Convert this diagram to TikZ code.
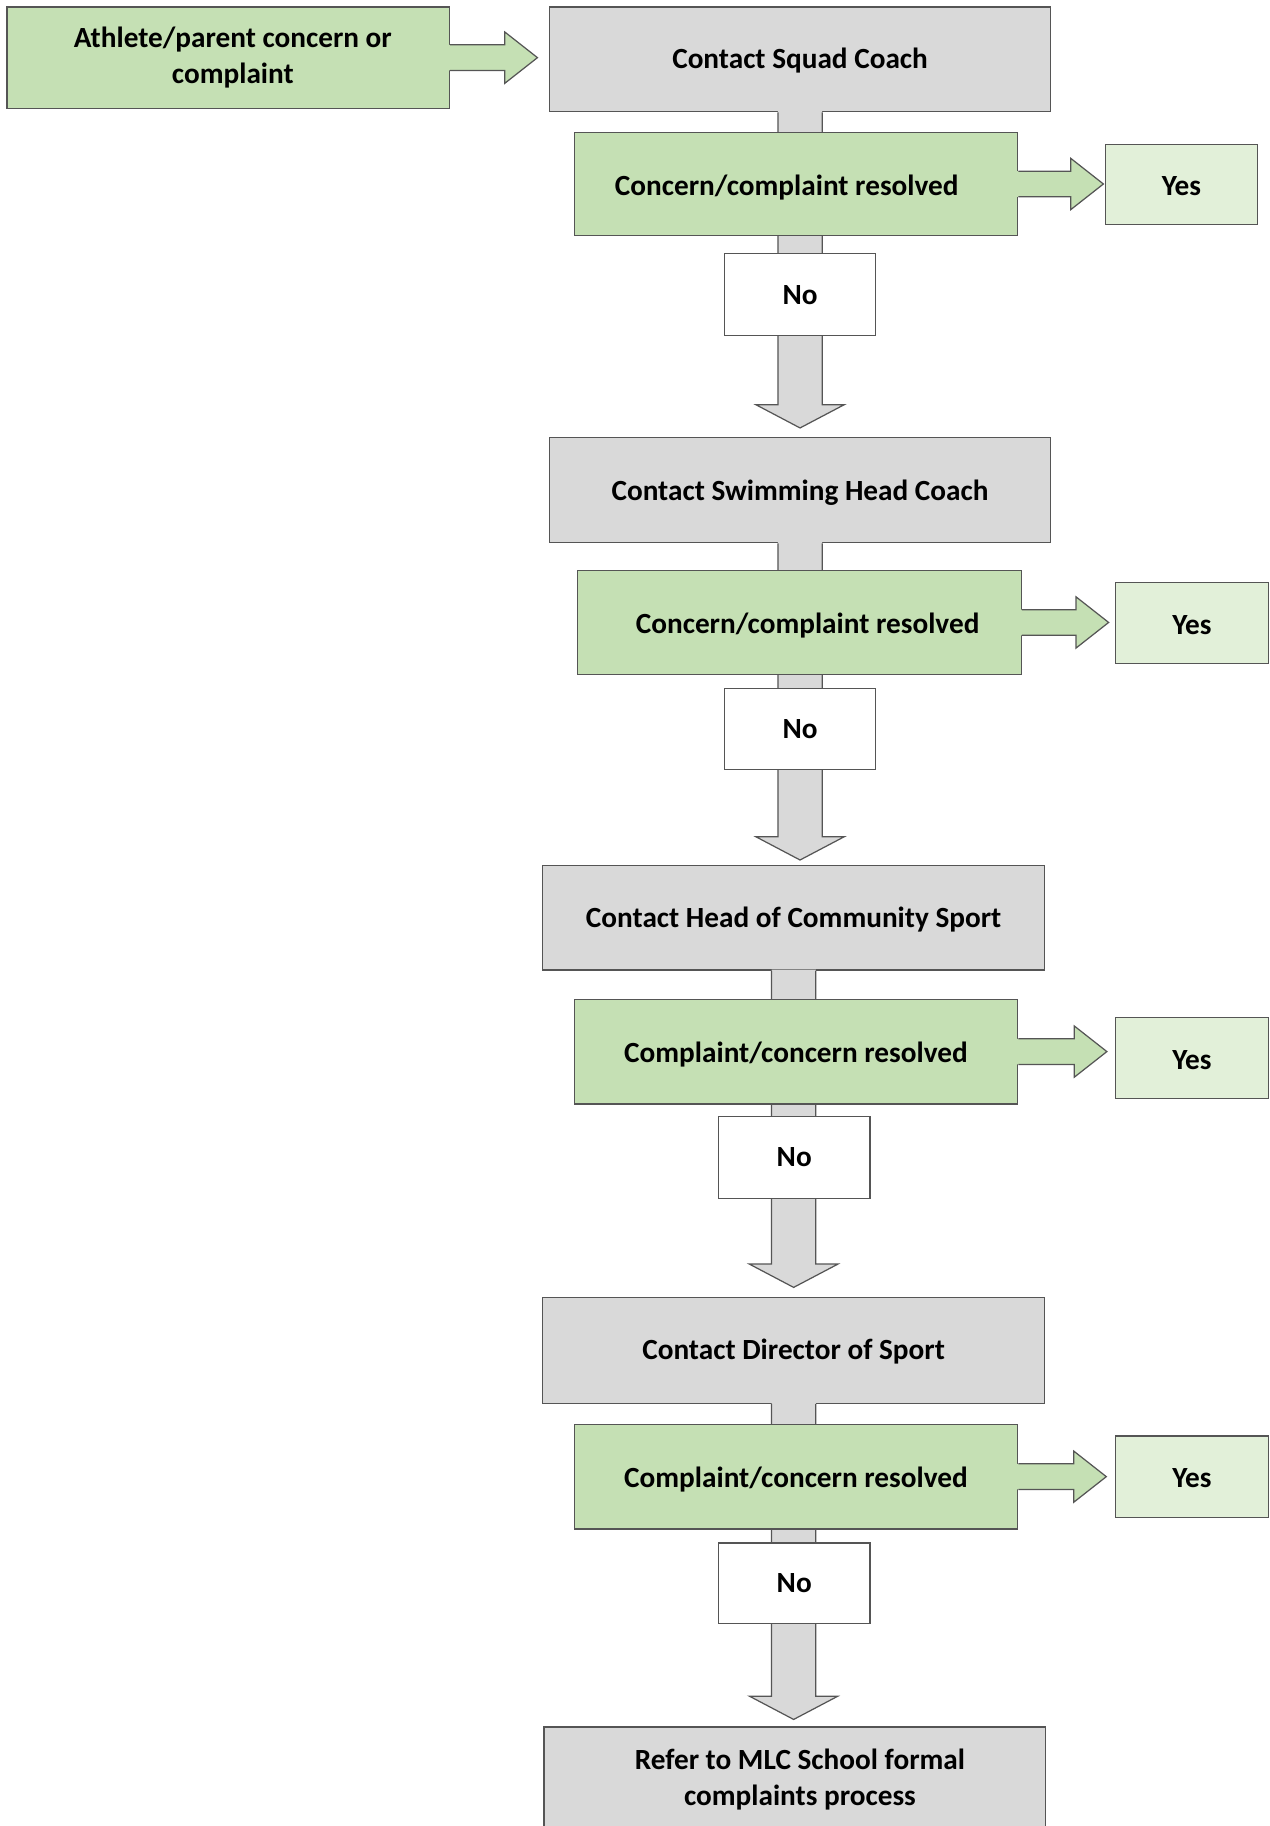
\documentclass[tikz,border=0pt]{standalone}
\usepackage{fontspec}
\setmainfont{Carlito}
\usetikzlibrary{calc}
\definecolor{grayfill}{HTML}{D9D9D9}
\definecolor{greenfill}{HTML}{C5E0B4}
\definecolor{yesfill}{HTML}{E2F0D9}
\definecolor{edgecol}{HTML}{555555}
\tikzset{
  basebox/.style={draw=edgecol, line width=0.6pt, inner sep=0pt, align=center,
    font=\fontsize{14.3}{17.6}\selectfont\bfseries, text=black},
  graybox/.style={basebox, fill=grayfill, minimum width=8.6cm, minimum height=1.8cm},
  greenbox/.style={basebox, fill=greenfill, minimum width=7.62cm, minimum height=1.78cm},
  yesbox/.style={basebox, fill=yesfill, minimum width=2.62cm, minimum height=1.4cm},
  nobox/.style={basebox, fill=white, minimum width=2.6cm, minimum height=1.4cm},
  arrowline/.style={draw=edgecol, line width=0.6pt, line join=miter},
}
% gray down block arrow: #1 from, #2 to, #3 gap before target
\newcommand\mydownblock[3]{%
  \coordinate (ds) at (#1.south);
  \coordinate (dt) at ($(#1.south |- #2.north)+(0,-#3)$);
  \fill[grayfill] ($(ds)+(-19,-1)$) -- ($(dt)+(-19,-20)$) -- ($(dt)+(-38,-20)$) -- (dt)
     -- ($(dt)+(38,-20)$) -- ($(dt)+(19,-20)$) -- ($(ds)+(19,-1)$) -- cycle;
  \draw[arrowline] (ds) ++(-19,0) -- ($(dt)+(-19,-20)$) -- ($(dt)+(-38,-20)$) -- (dt)
     -- ($(dt)+(38,-20)$) -- ($(dt)+(19,-20)$) -- ($(ds)+(19,0)$);
}
% green right block arrow: #1 from, #2 to, #3 gap before target
\newcommand\myrightblock[3]{%
  \coordinate (rs) at (#1.east);
  \coordinate (rt) at ($(#2.west |- #1.east)+(-#3,0)$);
  \fill[greenfill] ($(rs)+(-1,-11)$) -- ($(rt)+(-28,-11)$) -- ($(rt)+(-28,-22)$) -- (rt)
     -- ($(rt)+(-28,22)$) -- ($(rt)+(-28,11)$) -- ($(rs)+(-1,11)$) -- cycle;
  \draw[arrowline] ($(rs)+(0,-11)$) -- ($(rt)+(-28,-11)$) -- ($(rt)+(-28,-22)$) -- (rt)
     -- ($(rt)+(-28,22)$) -- ($(rt)+(-28,11)$) -- ($(rs)+(0,11)$);
}
\newcommand\lowered[2][1.6pt]{\raisebox{-#1}[\height][\depth]{#2}}
\begin{document}
\begin{tikzpicture}[x=0.02cm, y=-0.02cm]
\useasboundingbox (0,0) rectangle (1090,1568);
\clip (0,0) rectangle (1090,1568);
\fill[white] (0,0) rectangle (1090,1568);

% main contact boxes
\node[graybox] (squad) at (687,51) {\lowered[0.8pt]{Contact Squad Coach}};
\node[graybox] (headcoach) at (687,421) {\lowered[1.1pt]{Contact Swimming Head Coach}};
\node[graybox, minimum width=8.62cm] (community) at (681.5,788) {\lowered[1.1pt]{Contact Head of Community Sport}};
\node[graybox, minimum width=8.62cm, minimum height=1.82cm] (director) at (681.5,1159.5) {\lowered[0.8pt]{Contact Director of Sport}};
\node[graybox, minimum width=8.62cm] (refer) at (682.5,1528) {\hspace*{5pt}Refer to MLC School formal\\\hspace*{5pt}complaints process};

% gray down arrows
\mydownblock{squad}{headcoach}{8}
\mydownblock{headcoach}{community}{4}
\mydownblock{community}{director}{8}
\mydownblock{director}{refer}{6}

% start box
\node[basebox, fill=greenfill, minimum width=7.6cm, minimum height=1.74cm] (athlete) at (196,49.5) {\hspace*{4.5pt}Athlete/parent concern or\\\hspace*{4.5pt}complaint};

% decision boxes
\node[greenbox, minimum height=1.76cm] (res1) at (683.5,158) {\lowered{\hspace*{-9pt}Concern/complaint resolved}};
\node[yesbox, minimum height=1.38cm] (yes1) at (1014.5,158.5) {\lowered[0.8pt]{Yes}};
\node[nobox] (no1) at (687,253) {No};

\node[greenbox] (res2) at (686.5,534.5) {\lowered{\hspace*{8pt}Concern/complaint resolved}};
\node[yesbox] (yes2) at (1023.5,535) {\lowered[0.8pt]{Yes}};
\node[nobox] (no2) at (687,626) {No};

\node[greenbox, minimum height=1.8cm] (res3) at (683.5,903) {\lowered{Complaint/concern resolved}};
\node[yesbox, minimum height=1.38cm] (yes3) at (1023.5,908.5) {\lowered[0.8pt]{Yes}};
\node[nobox] (no3) at (682,994) {No};

\node[greenbox, minimum height=1.8cm] (res4) at (683.5,1268) {\lowered{Complaint/concern resolved}};
\node[yesbox] (yes4) at (1023.5,1268) {\lowered[0.8pt]{Yes}};
\node[nobox, minimum height=1.38cm] (no4) at (682,1359.5) {No};

% green right arrows
\myrightblock{athlete}{squad}{10}
\myrightblock{res1}{yes1}{1}
\myrightblock{res2}{yes2}{5.5}
\myrightblock{res3}{yes3}{7}
\myrightblock{res4}{yes4}{7.5}
\end{tikzpicture}
\end{document}
